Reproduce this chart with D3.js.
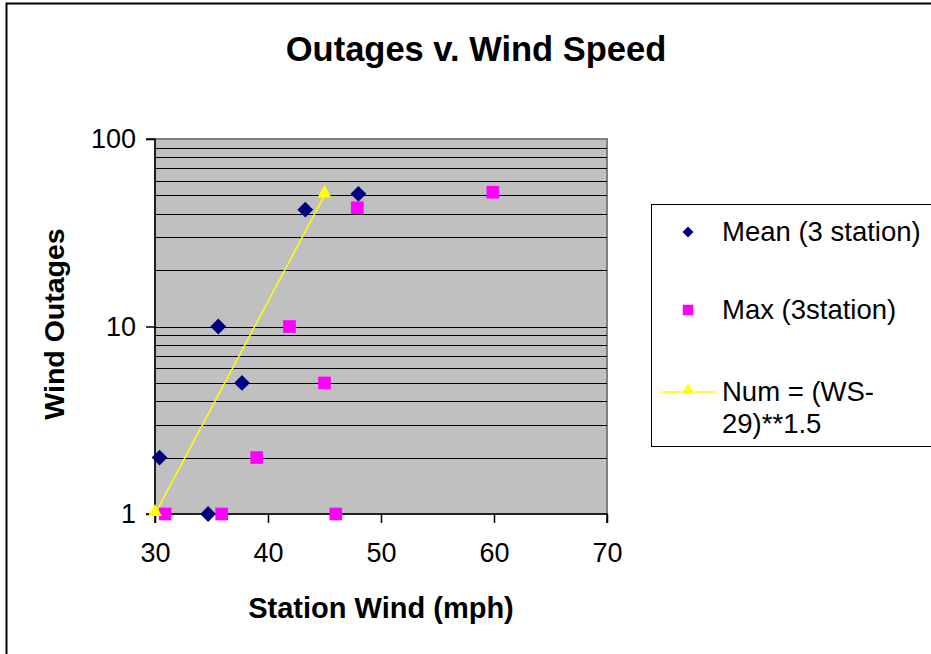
<!DOCTYPE html>
<html>
<head>
<meta charset="utf-8">
<script src="https://cdn.jsdelivr.net/npm/d3@7"></script>
<style>
  body { margin: 0; background: #fff; }
  svg text { font-family: "Liberation Sans", Arial, sans-serif; fill: #000; }
</style>
</head>
<body>
<div id="chart"></div>
<script>
// Mean (3 station)
const meanWind = [30.4, 34.7, 35.6, 37.7, 43.3, 48.0];
const meanOutages = [2, 1, 10, 5, 42, 51];

// Max (3station)
const maxWind = [30.9, 35.9, 39.0, 41.9, 45.0, 46.0, 47.9, 59.9];
const maxOutages = [1, 1, 2, 10, 5, 1, 43, 52];

// Num = (WS-29)**1.5
const numWind = [30, 45];
const numOutages = [1, 50];

const xTicks = [30, 40, 50, 60, 70];
const yTicks = [1, 10, 100];

const width = 931, height = 654;
const plot = { left: 155, right: 607, top: 139, bottom: 514 };

const svg = d3.select('#chart')
    .append('svg')
    .attr('width', width)
    .attr('height', height);

// Chart border (cut off right and bottom)
svg.append('rect')
    .attr('x', 6.5).attr('y', 3.5)
    .attr('width', 940).attr('height', 700)
    .attr('fill', '#fff')
    .attr('stroke', '#000')
    .attr('stroke-width', 2);

const x = d3.scaleLinear().domain([30, 70]).range([plot.left, plot.right]);
const y = d3.scaleLog().domain([1, 100]).range([plot.bottom, plot.top]);

// Plot area
svg.append('rect')
    .attr('x', plot.left).attr('y', plot.top)
    .attr('width', plot.right - plot.left)
    .attr('height', plot.bottom - plot.top)
    .attr('fill', '#c0c0c0')
    .attr('stroke', '#808080')
    .attr('stroke-width', 2);

// Gridlines: major and minor
const gridVals = [];
for (let d = 1; d < 100; d *= 10) {
    for (let k = 1; k <= 9; k++) gridVals.push(d * k);
}
svg.append('g')
    .selectAll('line')
    .data(gridVals.filter(v => v > 1))
    .enter()
    .append('line')
    .attr('x1', plot.left).attr('x2', plot.right)
    .attr('y1', d => Math.round(y(d)) + 0.5)
    .attr('y2', d => Math.round(y(d)) + 0.5)
    .attr('stroke', '#000')
    .attr('stroke-width', 1);

// Axes
const xAxis = d3.axisBottom(x).tickValues(xTicks).tickSize(9).tickPadding(20);
const yAxis = d3.axisLeft(y).tickValues(yTicks).tickFormat(d3.format('d')).tickSize(9).tickPadding(10);

const gx = svg.append('g')
    .attr('transform', `translate(0,${plot.bottom})`)
    .call(xAxis);
const gy = svg.append('g')
    .attr('transform', `translate(${plot.left},0)`)
    .call(yAxis);

[gx, gy].forEach(g => {
    g.select('.domain').attr('stroke', '#000').attr('stroke-width', 1.5);
    g.selectAll('.tick line').attr('stroke', '#000').attr('stroke-width', 1.5);
    g.selectAll('.tick text')
        .attr('fill', '#000')
        .style('font-size', '27px')
        .style('font-family', '"Liberation Sans", Arial, sans-serif');
});
gy.select('.domain').attr('d', `M-9,${plot.top}H0V${plot.bottom}H-9`);
gx.select('.domain').attr('d', `M${plot.left},9V0H${plot.right}V9`);

// Num line
const line = d3.line().x((d, i) => x(numWind[i])).y((d, i) => y(numOutages[i]));
svg.append('path')
    .datum(numWind)
    .attr('d', line)
    .attr('fill', 'none')
    .attr('stroke', '#ffff00')
    .attr('stroke-width', 1.5);

const diamond = d3.symbol().type(d3.symbolSquare).size(125);
const square = d3.symbol().type(d3.symbolSquare).size(160);
const triangle = d3.symbol().type(d3.symbolTriangle).size(85);

svg.append('g')
    .selectAll('path')
    .data(meanWind)
    .enter()
    .append('path')
    .attr('d', diamond)
    .attr('transform', (d, i) => `translate(${x(d)},${y(meanOutages[i])}) rotate(45)`)
    .attr('fill', '#000080');

svg.append('g')
    .selectAll('path')
    .data(maxWind)
    .enter()
    .append('path')
    .attr('d', square)
    .attr('transform', (d, i) => `translate(${x(d)},${y(maxOutages[i])})`)
    .attr('fill', '#ff00ff');

svg.append('g')
    .selectAll('path')
    .data(numWind)
    .enter()
    .append('path')
    .attr('d', triangle)
    .attr('transform', (d, i) => `translate(${x(d)},${y(numOutages[i]) - 2})`)
    .attr('fill', '#ffff00');

// Title and axis labels
svg.append('text')
    .attr('x', 476).attr('y', 61)
    .attr('text-anchor', 'middle')
    .style('font-size', '34.5px')
    .style('font-weight', 'bold')
    .text('Outages v. Wind Speed');

svg.append('text')
    .attr('x', 381).attr('y', 618)
    .attr('text-anchor', 'middle')
    .style('font-size', '29px')
    .style('font-weight', 'bold')
    .text('Station Wind (mph)');

svg.append('text')
    .attr('transform', 'translate(64,324) rotate(-90)')
    .attr('text-anchor', 'middle')
    .style('font-size', '28.5px')
    .style('font-weight', 'bold')
    .text('Wind Outages');

// Legend
const legend = svg.append('g');
legend.append('rect')
    .attr('x', 651.5).attr('y', 204.5)
    .attr('width', 300).attr('height', 242)
    .attr('fill', '#fff')
    .attr('stroke', '#000')
    .attr('stroke-width', 1);

legend.append('path')
    .attr('d', d3.symbol().type(d3.symbolSquare).size(60))
    .attr('transform', 'translate(688,232) rotate(45)')
    .attr('fill', '#000080');
legend.append('text')
    .attr('x', 722).attr('y', 241)
    .style('font-size', '27.5px')
    .text('Mean (3 station)');

legend.append('path')
    .attr('d', d3.symbol().type(d3.symbolSquare).size(110))
    .attr('transform', 'translate(688,310)')
    .attr('fill', '#ff00ff');
legend.append('text')
    .attr('x', 722).attr('y', 319)
    .style('font-size', '27.5px')
    .text('Max (3station)');

legend.append('line')
    .attr('x1', 662).attr('x2', 715)
    .attr('y1', 392).attr('y2', 392)
    .attr('stroke', '#ffff00')
    .attr('stroke-width', 1.5);
legend.append('path')
    .attr('d', d3.symbol().type(d3.symbolTriangle).size(60))
    .attr('transform', 'translate(688,390)')
    .attr('fill', '#ffff00');
legend.append('text')
    .attr('x', 722).attr('y', 401)
    .style('font-size', '27.5px')
    .text('Num = (WS-');
legend.append('text')
    .attr('x', 722).attr('y', 433)
    .style('font-size', '27.5px')
    .text('29)**1.5');
</script>
</body>
</html>
